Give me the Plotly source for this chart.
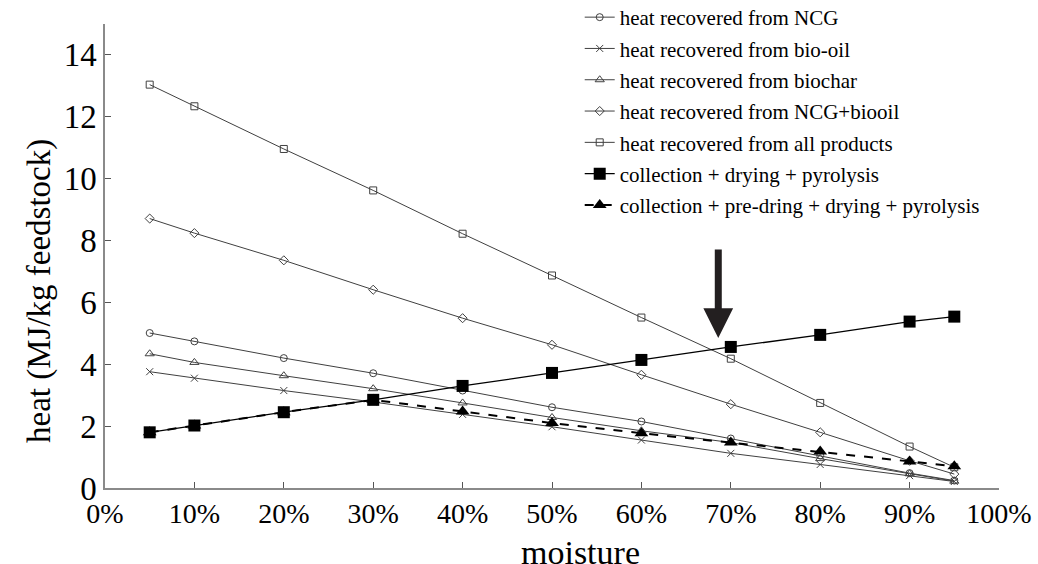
import plotly.graph_objects as go

moisture = [0.05, 0.10, 0.20, 0.30, 0.40, 0.50, 0.60, 0.70, 0.80, 0.90, 0.95]

heat_ncg = [5.01, 4.74, 4.20, 3.71, 3.15, 2.61, 2.15, 1.60, 1.05, 0.48, 0.24]
heat_biooil = [3.76, 3.55, 3.15, 2.78, 2.38, 1.98, 1.55, 1.12, 0.76, 0.40, 0.21]
heat_biochar = [4.34, 4.06, 3.63, 3.21, 2.75, 2.28, 1.85, 1.47, 0.95, 0.46, 0.22]
heat_ncg_biooil = [8.71, 8.24, 7.36, 6.41, 5.49, 4.63, 3.66, 2.71, 1.80, 0.88, 0.45]
heat_all = [13.04, 12.34, 10.96, 9.62, 8.22, 6.87, 5.51, 4.18, 2.75, 1.34, 0.67]
cost_cdp = [1.80, 2.02, 2.45, 2.85, 3.30, 3.72, 4.14, 4.56, 4.95, 5.38, 5.54]
cost_cpddp = [1.80, 2.02, 2.45, 2.85, 2.47, 2.10, 1.77, 1.47, 1.18, 0.86, 0.70]

names = [
    "heat recovered from NCG",
    "heat recovered from bio-oil",
    "heat recovered from biochar",
    "heat recovered from NCG+biooil",
    "heat recovered from all products",
    "collection + drying + pyrolysis",
    "collection + pre-dring + drying + pyrolysis",
]

y_ticks = [0, 2, 4, 6, 8, 10, 12, 14]
x_ticks = [0, 0.1, 0.2, 0.3, 0.4, 0.5, 0.6, 0.7, 0.8, 0.9, 1.0]

x_title = "moisture"
y_title = "heat (MJ/kg feedstock)"

SERIF = "Liberation Serif"
GRAY = "#404040"
SHIFT = 20  # figure is drawn SHIFT px taller and lifted by SHIFT px on the page

fig = go.Figure()

open_styles = [
    (heat_ncg, "circle-open", 7),
    (heat_biooil, "x-thin-open", 7),
    (heat_biochar, "triangle-up-open", 8),
    (heat_ncg_biooil, "diamond-open", 7),
    (heat_all, "square-open", 7),
]
for i, (vals, sym, sz) in enumerate(open_styles):
    fig.add_trace(go.Scatter(
        x=moisture, y=vals, name=names[i], mode="lines+markers",
        legendgroup=f"g{i}", legendrank=i,
        line=dict(color=GRAY, width=1),
        marker=dict(symbol=sym, size=sz, color=GRAY, line=dict(color=GRAY, width=1)),
    ))

fig.add_trace(go.Scatter(
    x=moisture, y=cost_cpddp, name=names[6], mode="lines+markers",
    legendgroup="g6", legendrank=6,
    line=dict(color="black", width=2, dash="dash"),
    marker=dict(symbol="triangle-up", size=12, color="black"),
))
fig.add_trace(go.Scatter(
    x=moisture, y=cost_cdp, name=names[5], mode="lines+markers",
    legendgroup="g5", legendrank=5,
    line=dict(color="black", width=1.3),
    marker=dict(symbol="square", size=12, color="black"),
))

# pointer arrow
fig.add_annotation(
    x=0.686, y=4.85, xref="x", yref="y", ax=0, ay=-90,
    text="", showarrow=True, arrowhead=2, arrowsize=0.85, arrowwidth=7,
    arrowcolor="#231f20",
)
# axis titles
fig.add_annotation(
    x=-0.0727, y=0.4246, xref="paper", yref="paper", text=y_title,
    textangle=-90, showarrow=False, xanchor="center", yanchor="middle",
    font=dict(family=SERIF, size=33, color="black"),
)
fig.add_annotation(
    x=0.532, y=-0.138, xref="paper", yref="paper", text=x_title,
    showarrow=False, xanchor="center", yanchor="middle",
    font=dict(family=SERIF, size=34, color="black"),
)

fig.update_layout(
    width=1038, height=564 + SHIFT,
    paper_bgcolor="white", plot_bgcolor="white",
    margin=dict(l=105, r=39, t=24 + SHIFT, b=76),
    font=dict(family=SERIF, color="black"),
    showlegend=True,
    legend=dict(
        x=0.531, y=1.0582, xanchor="left", yanchor="top",
        font=dict(family=SERIF, size=21, color="black"),
        bgcolor="rgba(0,0,0,0)", traceorder="grouped",
        tracegroupgap=1, itemwidth=30,
    ),
    xaxis=dict(
        range=[0, 1.0], tickvals=x_ticks, tickformat=".0%",
        showgrid=False, zeroline=False,
        showline=True, linecolor="#8a8a8a", linewidth=1.5,
        ticks="inside", ticklen=6, tickcolor="#555",
        tickfont=dict(family=SERIF, size=28),
        automargin=False,
    ),
    yaxis=dict(
        range=[0, 15], tickvals=y_ticks,
        showgrid=False, zeroline=False,
        showline=True, linecolor="#8a8a8a", linewidth=1.5,
        ticks="inside", ticklen=6, tickcolor="#555",
        tickfont=dict(family=SERIF, size=33),
        automargin=False,
    ),
)

fig.write_html(
    "out.html",
    config={"displayModeBar": False},
    post_script=f"document.body.style.margin='-{SHIFT}px 0 0 0';",
)
